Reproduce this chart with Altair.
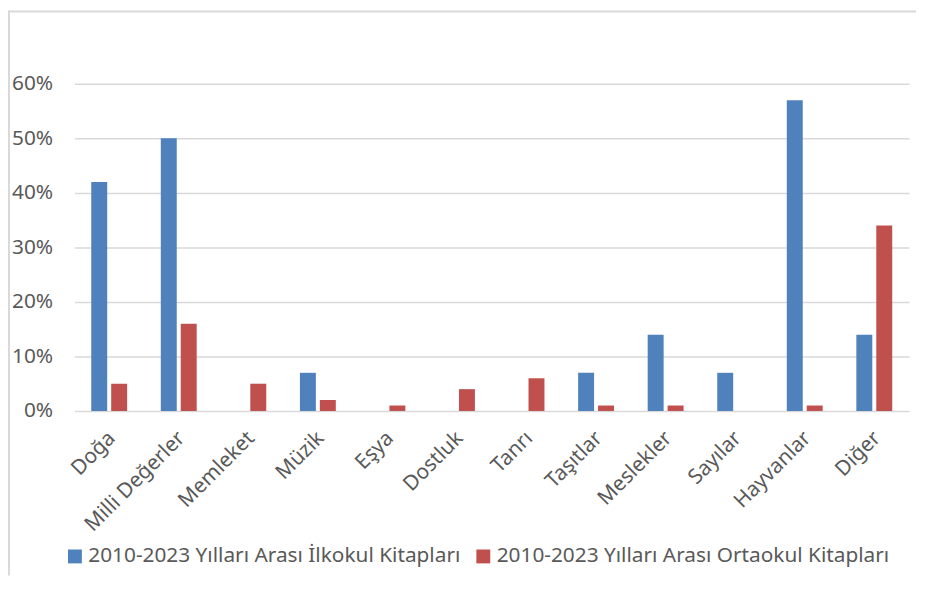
import altair as alt
import pandas as pd

categories = ["Doğa", "Milli Değerler", "Memleket", "Müzik", "Eşya", "Dostluk",
              "Tanrı", "Taşıtlar", "Meslekler", "Sayılar", "Hayvanlar", "Diğer"]
series_names = ["2010-2023 Yılları Arası İlkokul Kitapları",
                "2010-2023 Yılları Arası Ortaokul Kitapları"]
ilkokul = [0.42, 0.50, 0.0, 0.07, 0.0, 0.0, 0.0, 0.07, 0.14, 0.07, 0.57, 0.14]
ortaokul = [0.05, 0.16, 0.05, 0.02, 0.01, 0.04, 0.06, 0.01, 0.01, 0.0, 0.01, 0.34]
colors = ["#4f81bd", "#c0504d"]

rows = []
for i, c in enumerate(categories):
    rows.append({"Kategori": c, "Seri": series_names[0], "Oran": ilkokul[i]})
    rows.append({"Kategori": c, "Seri": series_names[1], "Oran": ortaokul[i]})
df = pd.DataFrame(rows)

FONT = "Noto Sans"
TXT = "#595959"
FS = 21

bars = alt.Chart(df).mark_bar().encode(
    x=alt.X("Kategori:N", sort=categories, title=None,
            scale=alt.Scale(paddingInner=0.484, paddingOuter=0.242),
            axis=alt.Axis(labelAngle=-45, labelAlign="right", labelBaseline="middle",
                          labelFontSize=FS, labelColor=TXT, labelFont=FONT,
                          ticks=False, domain=False, labelPadding=24, labelOffset=3,
                          labelLimit=300)),
    xOffset=alt.XOffset("Seri:N", sort=series_names,
                        scale=alt.Scale(paddingInner=0.2, paddingOuter=0)),
    y=alt.Y("Oran:Q", title=None,
            scale=alt.Scale(domain=[0, 0.6], nice=False),
            axis=alt.Axis(format=".0%", values=[0, 0.1, 0.2, 0.3, 0.4, 0.5, 0.6],
                          labelFontSize=FS, labelColor=TXT, labelFont=FONT,
                          ticks=False, domain=False, labelPadding=22,
                          gridColor="#d9d9d9", gridWidth=1.5)),
    color=alt.Color("Seri:N", sort=series_names,
                    scale=alt.Scale(domain=series_names, range=colors),
                    legend=alt.Legend(title=None, orient="none", direction="horizontal",
                                      legendX=-10, legendY=466,
                                      symbolType="square", symbolSize=196,
                                      symbolStrokeWidth=0, labelOffset=3,
                                      labelFontSize=FS, labelColor=TXT, labelFont=FONT,
                                      labelLimit=500, columnPadding=12, symbolOffset=0)),
)

frame_df = pd.DataFrame({"k": [0]})
frame_left = alt.Chart(frame_df).mark_rule(stroke="#d9d9d9", strokeWidth=2).encode(
    x=alt.value(-66), y=alt.value(-74), y2=alt.value(496)
)
frame_top = alt.Chart(frame_df).mark_rule(stroke="#d9d9d9", strokeWidth=2).encode(
    x=alt.value(-67), x2=alt.value(849), y=alt.value(-73)
)

chart = alt.layer(frame_left, frame_top, bars).properties(
    width=842, height=330,
    autosize=alt.AutoSizeParams(type="none"),
    padding={"left": 67, "top": 74, "right": 8, "bottom": 168},
).configure_view(stroke=None).configure_axisX(grid=False)

chart.save("out.html", embed_options={"renderer": "svg", "actions": False})
